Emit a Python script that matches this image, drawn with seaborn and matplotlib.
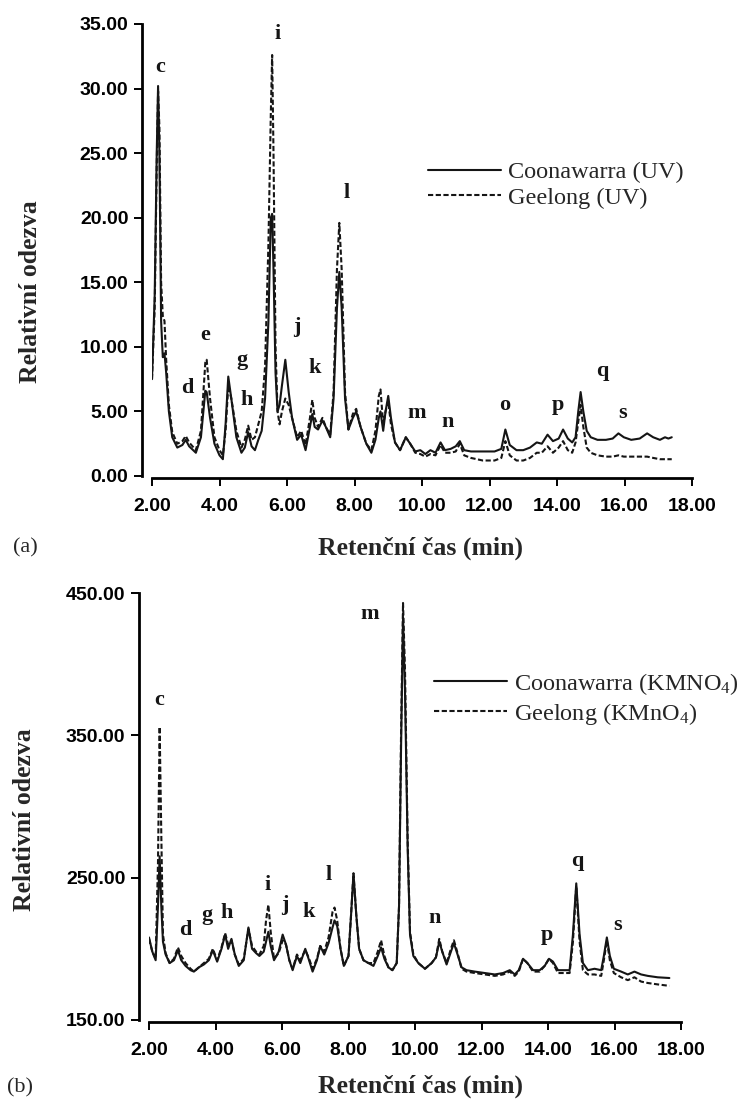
import numpy as np
import pandas as pd
import matplotlib
matplotlib.use("Agg")
import matplotlib.pyplot as plt
import matplotlib.ticker as mticker
import seaborn as sns

# --- DATA: panel (a), UV detection ---
t_uv = [2.00, 2.08, 2.14, 2.18, 2.22, 2.27, 2.32, 2.37, 2.42, 2.50, 2.60, 2.75, 2.90, 3.00,
        3.10, 3.30, 3.45, 3.58, 3.62, 3.72, 3.85, 4.00, 4.10, 4.18, 4.26, 4.35, 4.50, 4.65,
        4.75, 4.85, 4.95, 5.05, 5.15, 5.25, 5.35, 5.45, 5.52, 5.56, 5.60, 5.66, 5.72, 5.78,
        5.85, 5.95, 6.05, 6.15, 6.30, 6.42, 6.55, 6.68, 6.75, 6.82, 6.92, 7.05, 7.15, 7.28,
        7.38, 7.48, 7.55, 7.62, 7.72, 7.82, 7.95, 8.05, 8.18, 8.35, 8.50, 8.62, 8.72, 8.77,
        8.85, 8.92, 9.00, 9.08, 9.20, 9.35, 9.52, 9.65, 9.80, 9.95, 10.10, 10.25, 10.40, 10.55,
        10.68, 10.85, 11.00, 11.12, 11.25, 11.45, 11.80, 12.15, 12.35, 12.47, 12.60, 12.80,
        13.00, 13.20, 13.40, 13.55, 13.72, 13.88, 14.05, 14.18, 14.32, 14.45, 14.55, 14.63,
        14.70, 14.78, 14.88, 15.00, 15.20, 15.45, 15.65, 15.82, 15.98, 16.20, 16.45, 16.67,
        16.85, 17.05, 17.20, 17.30, 17.40]
coon_uv = [7.5, 14.0, 25.0, 30.2, 25.0, 12.0, 9.2, 9.5, 8.0, 5.0, 3.0, 2.2, 2.4, 2.8,
           2.3, 1.8, 3.0, 6.6, 6.5, 4.5, 2.5, 1.6, 1.3, 4.0, 7.7, 6.0, 3.0, 1.8,
           2.2, 3.4, 2.3, 2.0, 2.8, 3.5, 6.0, 12.0, 20.0, 20.3, 16.0, 8.0, 5.0, 5.5,
           7.0, 9.0, 6.5, 4.5, 2.8, 3.2, 2.0, 3.8, 4.8, 3.8, 3.6, 4.3, 3.8, 3.0,
           6.0, 13.0, 15.8, 13.0, 6.0, 3.6, 4.5, 5.0, 3.8, 2.5, 1.8, 2.8, 4.5, 5.0,
           3.5, 5.0, 6.2, 4.5, 2.6, 2.0, 3.0, 2.5, 1.9, 2.0, 1.7, 2.0, 1.8, 2.6,
           2.0, 2.1, 2.3, 2.7, 2.0, 1.9, 1.9, 1.9, 2.1, 3.6, 2.4, 2.0,
           2.0, 2.2, 2.6, 2.5, 3.2, 2.7, 2.9, 3.6, 2.9, 2.6, 3.0, 5.0,
           6.5, 5.0, 3.5, 3.0, 2.8, 2.8, 2.9, 3.3, 3.0, 2.8, 2.9, 3.3,
           3.0, 2.8, 3.0, 2.9, 3.0]
geel_uv = [7.5, 13.0, 24.0, 29.8, 27.0, 15.0, 12.4, 12.0, 9.0, 5.5, 3.4, 2.5, 2.7, 3.1,
           2.6, 2.0, 3.5, 8.8, 9.0, 6.0, 3.0, 2.0, 1.6, 3.5, 7.0, 6.0, 3.5, 2.2,
           2.8, 3.9, 2.8, 3.0, 4.0, 5.0, 8.5, 18.0, 28.0, 32.6, 25.0, 10.0, 5.0, 4.0,
           5.0, 6.0, 5.5, 4.5, 3.0, 3.5, 2.4, 4.5, 5.9, 4.5, 3.8, 4.5, 3.8, 3.2,
           6.5, 16.0, 19.6, 16.0, 6.5, 3.6, 4.8, 5.2, 3.8, 2.5, 2.0, 3.5, 6.2, 6.7,
           4.0, 5.0, 5.8, 4.0, 2.6, 2.0, 3.0, 2.5, 1.8, 1.7, 1.5, 1.7, 1.6, 2.4,
           1.8, 1.8, 1.9, 2.5, 1.6, 1.4, 1.2, 1.2, 1.4, 2.7, 1.6, 1.2,
           1.2, 1.4, 1.8, 1.8, 2.3, 1.8, 2.2, 2.7, 2.0, 1.8, 2.6, 4.2,
           5.5, 3.8, 2.2, 1.8, 1.6, 1.5, 1.5, 1.6, 1.5, 1.5, 1.5, 1.5,
           1.4, 1.3, 1.3, 1.3, 1.3]
peaks_uv = ["c", "d", "e", "g", "h", "i", "j", "k", "l", "m", "n", "o", "p", "q", "s"]
peaks_uv_t = [2.24, 3.04, 3.57, 4.67, 4.81, 5.73, 6.30, 6.83, 7.78, 9.85, 10.77, 12.46, 14.03, 15.33, 15.93]
peaks_uv_y = [31.7, 6.8, 10.9, 9.0, 5.9, 34.2, 11.5, 8.4, 21.9, 4.9, 4.2, 5.5, 5.5, 8.1, 4.9]

# --- DATA: panel (b), KMnO4 detection ---
t_km = [2.00, 2.10, 2.20, 2.27, 2.32, 2.37, 2.42, 2.50, 2.62, 2.75, 2.87, 2.97, 3.10, 3.25,
        3.35, 3.50, 3.65, 3.80, 3.92, 4.05, 4.18, 4.29, 4.38, 4.48, 4.58, 4.70, 4.85, 4.99,
        5.10, 5.22, 5.32, 5.45, 5.52, 5.59, 5.66, 5.76, 5.90, 6.02, 6.12, 6.22, 6.32, 6.45,
        6.55, 6.70, 6.80, 6.92, 7.05, 7.15, 7.27, 7.40, 7.52, 7.58, 7.66, 7.76, 7.86, 8.00,
        8.08, 8.15, 8.23, 8.32, 8.45, 8.60, 8.75, 8.88, 8.98, 9.08, 9.20, 9.32, 9.45, 9.52,
        9.58, 9.64, 9.70, 9.78, 9.85, 9.95, 10.10, 10.30, 10.50, 10.63, 10.73, 10.82, 10.95,
        11.08, 11.17, 11.28, 11.40, 11.55, 11.80, 12.10, 12.40, 12.65, 12.85, 13.00, 13.12,
        13.25, 13.38, 13.55, 13.75, 13.90, 14.03, 14.15, 14.30, 14.50, 14.65, 14.75, 14.85,
        14.95, 15.05, 15.20, 15.40, 15.60, 15.68, 15.77, 15.86, 15.98, 16.20, 16.40, 16.60,
        16.80, 17.00, 17.30, 17.65]
coon_km = [208, 198, 192, 230, 265, 230, 205, 196, 190, 192, 199, 192, 188, 185,
           184, 187, 189, 192, 199, 191, 200, 210, 200, 207, 196, 188, 192, 215,
           200, 197, 195, 198, 205, 212, 202, 192, 198, 210, 203, 192, 185, 195,
           190, 200, 193, 184, 192, 202, 196, 204, 215, 220, 216, 200, 188, 195,
           225, 253, 225, 200, 192, 190, 188, 195, 201, 193, 187, 185, 190, 230,
           340, 433, 380, 270, 210, 195, 190, 186, 190, 194, 205, 198, 189,
           198, 204, 196, 187, 185, 184, 183, 182, 183, 185, 182, 185,
           193, 190, 185, 185, 188, 193, 191, 185, 185, 185, 210, 246,
           210, 190, 185, 186, 185, 195, 208, 195, 186, 184, 182, 184,
           182, 181, 180, 179.5]
geel_km = [207, 198, 193, 260, 356, 280, 210, 197, 190, 193, 201, 195, 190, 186,
           184, 187, 190, 193, 200, 192, 201, 211, 203, 206, 196, 189, 193, 214,
           202, 198, 196, 202, 220, 231, 212, 193, 197, 206, 203, 192, 186, 196,
           192, 199, 194, 186, 193, 202, 198, 208, 226, 229, 220, 200, 188, 195,
           225, 253, 225, 200, 192, 190, 190, 198, 206, 195, 187, 185, 190, 230,
           350, 443, 395, 275, 212, 196, 190, 186, 190, 194, 207, 198, 190,
           200, 206, 197, 186, 184, 183, 182, 181, 182, 184, 181, 184,
           193, 190, 184, 184, 188, 193, 190, 183, 183, 183, 205, 244,
           205, 185, 182, 182, 181, 192, 206, 192, 183, 180, 178, 180,
           177, 176, 175, 174]
peaks_km = ["c", "d", "g", "h", "i", "j", "k", "l", "m", "n", "p", "q", "s"]
peaks_km_t = [2.30, 3.08, 3.74, 4.34, 5.58, 6.09, 6.81, 7.41, 8.65, 10.60, 13.97, 14.87, 16.10]
peaks_km_y = [375, 213, 224, 225, 245, 231, 226, 252, 435, 222, 210, 262, 217]

# --- STYLE ---
sns.set_style("ticks")
plt.rcParams["font.family"] = ["Liberation Serif", "DejaVu Serif"]
plt.rcParams["mathtext.default"] = "regular"
SANS = "Liberation Sans"
SERIF = "Liberation Serif"
INK = "#151515"
TICK_FS = 14
LAB_FS = 18.5
LEG_FS = 17.5
PEAK_FS = 16

W, H = 753, 1104
fig = plt.figure(figsize=(W / 100, H / 100), dpi=100)
ax1 = fig.add_axes([152 / W, 1 - 476 / H, 540 / W, 452 / H])
ax2 = fig.add_axes([149 / W, 1 - 1020 / H, 532 / W, 427 / H])


def style_ticklabels(ax):
    for lbl in ax.get_xticklabels() + ax.get_yticklabels():
        lbl.set_fontfamily(SANS)
        lbl.set_fontweight("bold")
        lbl.set_fontsize(TICK_FS)


def draw_panel(ax, t, coon, geel, lab_coon, lab_geel):
    df = pd.DataFrame({"t": t, "coon": coon, "geel": geel})
    sns.lineplot(data=df, x="t", y="coon", ax=ax, color=INK, lw=1.5,
                 label=lab_coon, errorbar=None)
    sns.lineplot(data=df, x="t", y="geel", ax=ax, color=INK, lw=1.5,
                 linestyle=(0, (2.5, 1.2)), label=lab_geel, errorbar=None)
    ax.set_xlabel("")
    ax.set_ylabel("")
    sns.despine(ax=ax)
    ax.spines["left"].set_position(("outward", 7))
    ax.spines["bottom"].set_position(("outward", 1.5))
    for s in ("left", "bottom"):
        ax.spines[s].set_linewidth(2.0)
        ax.spines[s].set_color("black")
    ax.tick_params(direction="out", length=6, width=1.4, colors="black", pad=4)
    ax.tick_params(axis="x", pad=8)
    ax.set_xlim(2, 18)
    ax.set_xticks(np.arange(2, 19, 2))
    ax.xaxis.set_major_formatter(mticker.FormatStrFormatter("%.2f"))
    ax.yaxis.set_major_formatter(mticker.FormatStrFormatter("%.2f"))


draw_panel(ax1, t_uv, coon_uv, geel_uv, "Coonawarra (UV)", "Geelong (UV)")
ax1.set_ylim(0, 35)
ax1.set_yticks(np.arange(0, 36, 5))
style_ticklabels(ax1)
for name, x, y in zip(peaks_uv, peaks_uv_t, peaks_uv_y):
    ax1.text(x, y, name, ha="center", va="center", fontsize=PEAK_FS, fontweight="bold",
             family=SERIF, color=INK, clip_on=False)

draw_panel(ax2, t_km, coon_km, geel_km, "Coonawarra (KMNO$_4$)", "Geelong (KMnO$_4$)")
ax2.set_ylim(150, 450)
ax2.set_yticks(np.arange(150, 451, 100))
style_ticklabels(ax2)
for name, x, y in zip(peaks_km, peaks_km_t, peaks_km_y):
    ax2.text(x, y, name, ha="center", va="center", fontsize=PEAK_FS, fontweight="bold",
             family=SERIF, color=INK, clip_on=False)

# legends
ax1.legend(loc="upper left", bbox_to_anchor=(428 / W, 1 - 161 / H),
           bbox_transform=fig.transFigure, frameon=False,
           handlelength=3.0, handletextpad=0.3, labelspacing=0.15, borderpad=0,
           borderaxespad=0, prop={"family": SERIF, "size": LEG_FS})
ax2.legend(loc="upper left", bbox_to_anchor=(434 / W, 1 - 671 / H),
           bbox_transform=fig.transFigure, frameon=False,
           handlelength=3.0, handletextpad=0.3, labelspacing=0.15, borderpad=0,
           borderaxespad=0, prop={"family": SERIF, "size": LEG_FS})

# axis titles and panel tags
fig.text(421 / W, 1 - 548 / H, "Retenční čas (min)", ha="center", va="center",
         fontsize=LAB_FS, fontweight="bold", family=SERIF)
fig.text(421 / W, 1 - 1086 / H, "Retenční čas (min)", ha="center", va="center",
         fontsize=LAB_FS, fontweight="bold", family=SERIF)
fig.text(31 / W, 1 - 292 / H, "Relativní odezva", ha="center", va="center",
         rotation=90, fontsize=LAB_FS, fontweight="bold", family=SERIF)
fig.text(25 / W, 1 - 820 / H, "Relativní odezva", ha="center", va="center",
         rotation=90, fontsize=LAB_FS, fontweight="bold", family=SERIF)
fig.text(25 / W, 1 - 548 / H, "(a)", ha="center", va="center", fontsize=16, family=SERIF)
fig.text(20 / W, 1 - 1088 / H, "(b)", ha="center", va="center", fontsize=16, family=SERIF)

fig.savefig("out.png", dpi=100)
